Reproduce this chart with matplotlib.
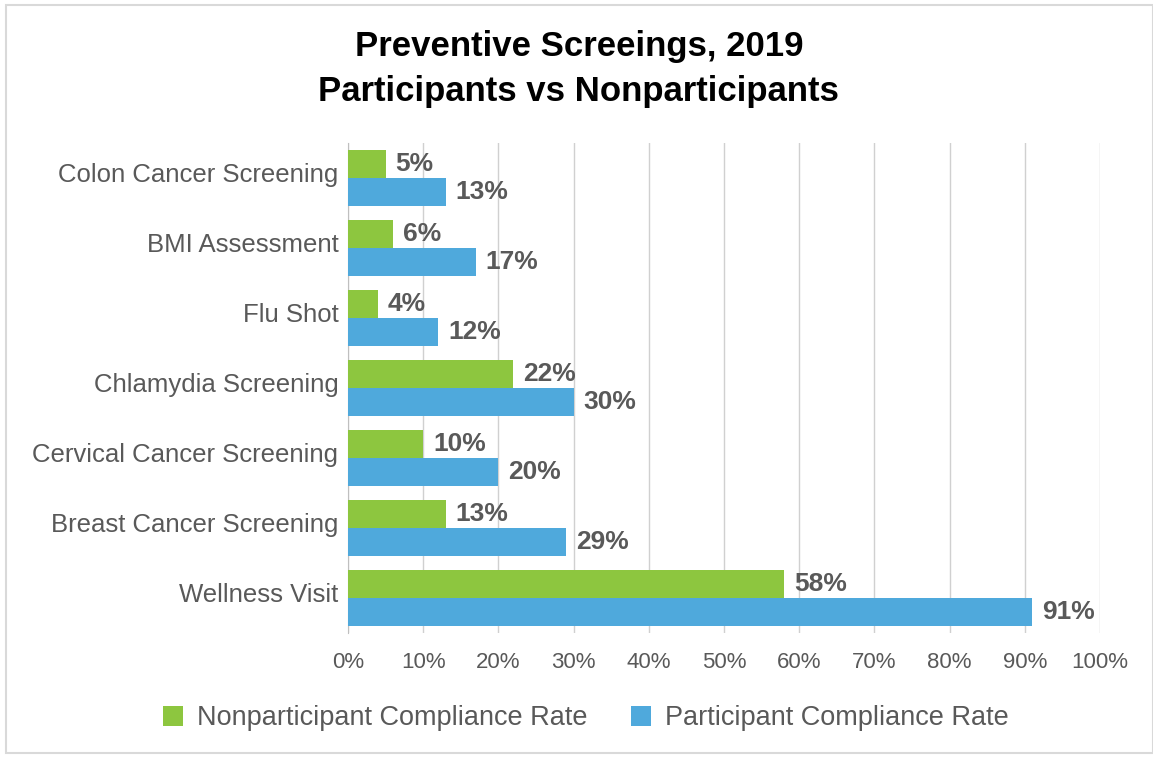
import numpy as np
import matplotlib.pyplot as plt
from matplotlib.patches import Rectangle
from matplotlib.transforms import ScaledTranslation

plt.rcParams['font.family'] = ['Liberation Sans', 'DejaVu Sans']

categories = ['Colon Cancer Screening', 'BMI Assessment', 'Flu Shot', 'Chlamydia Screening',
              'Cervical Cancer Screening', 'Breast Cancer Screening', 'Wellness Visit']
nonpart = [5, 6, 4, 22, 10, 13, 58]
part = [13, 17, 12, 30, 20, 29, 91]

green = '#8DC63F'
blue = '#4FA9DC'
grey = '#595959'

fig = plt.figure(figsize=(11.53, 7.57), dpi=100)
ax = fig.add_axes([0.3018, 0.164, 0.6522, 0.647])

y = np.arange(len(categories))
h = 0.4
ax.barh(y - h / 2, nonpart, height=h, color=green, label='Nonparticipant Compliance Rate', zorder=3)
ax.barh(y + h / 2, part, height=h, color=blue, label='Participant Compliance Rate', zorder=3)

for i in range(len(categories)):
    ax.text(nonpart[i] + 1.3, y[i] - h / 2, f'{nonpart[i]}%', va='center', ha='left',
            fontsize=19, fontweight='bold', color=grey)
    ax.text(part[i] + 1.3, y[i] + h / 2, f'{part[i]}%', va='center', ha='left',
            fontsize=19, fontweight='bold', color=grey)

ax.set_ylim(len(categories) - 0.5, -0.5)
ax.set_xlim(0, 100)
ax.set_xticks(np.arange(0, 101, 10))
ax.set_xticklabels([f'{v}%' for v in range(0, 101, 10)])
ax.set_yticks(y)
ax.set_yticklabels(categories)
ax.tick_params(axis='y', length=0, pad=7, labelsize=18.5, labelcolor=grey)
ax.tick_params(axis='x', length=0, pad=14, labelsize=16, labelcolor=grey)
# labels sit a little above the group centre in the original
shift = ScaledTranslation(0, 4 / 72, fig.dpi_scale_trans)
for lab in ax.get_yticklabels():
    lab.set_transform(lab.get_transform() + shift)
ax.grid(axis='x', color='#D0D0D0', linewidth=1, zorder=0)
for s in ['top', 'right', 'bottom']:
    ax.spines[s].set_visible(False)
ax.spines['left'].set_color('#BFBFBF')

fig.text(0.502, 0.938, 'Preventive Screeings, 2019', ha='center', va='center',
         fontsize=25, fontweight='bold', color='black')
fig.text(0.502, 0.879, 'Participants vs Nonparticipants', ha='center', va='center',
         fontsize=25, fontweight='bold', color='black')

fig.legend(loc='center', bbox_to_anchor=(0.508, 0.051), ncol=2, frameon=False,
           fontsize=19.5, handlelength=0.75, handleheight=0.75, handletextpad=0.5,
           columnspacing=1.6, labelcolor=grey)

fig.patches.append(Rectangle((0.005, 0.005), 0.995, 0.989, transform=fig.transFigure,
                             fill=False, edgecolor='#D9D9D9', linewidth=1.5))

fig.savefig('out.png', dpi=100)
